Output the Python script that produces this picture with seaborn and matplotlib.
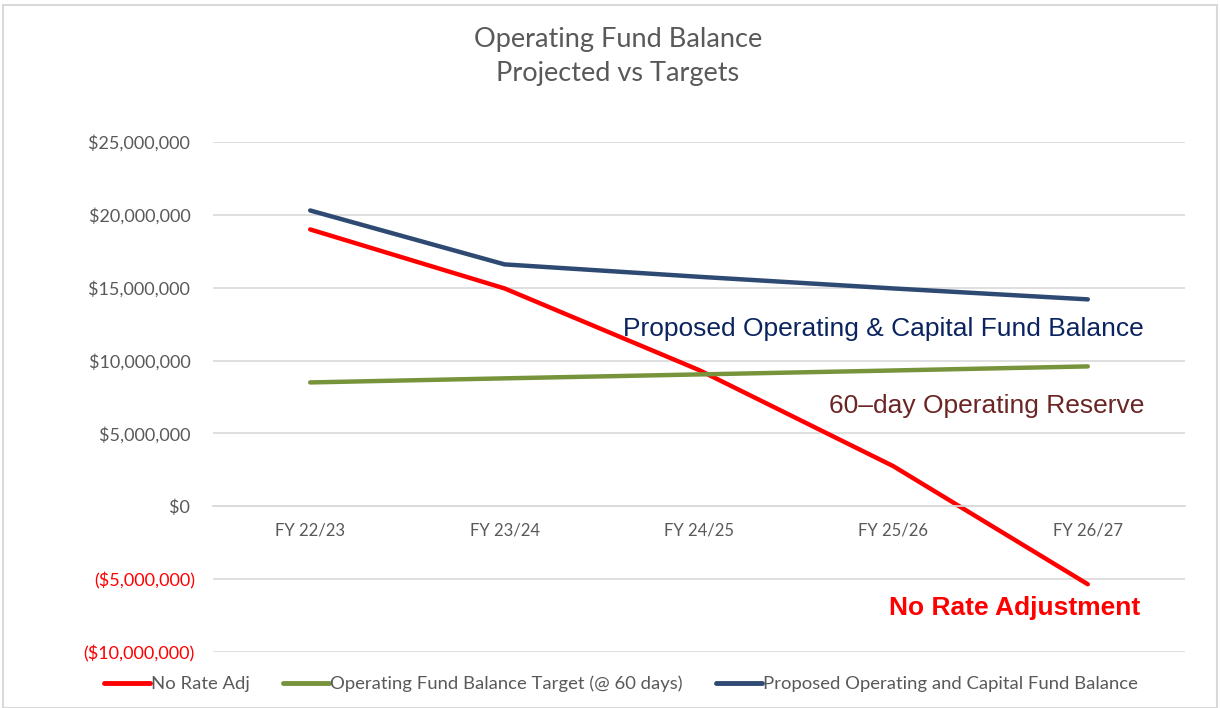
import matplotlib
matplotlib.use("Agg")
import matplotlib.pyplot as plt
import seaborn as sns
import pandas as pd
from matplotlib.patches import Rectangle

# ---- data ----
years = ["FY 22/23", "FY 23/24", "FY 24/25", "FY 25/26", "FY 26/27"]
no_rate_adj = [19_000_000, 14_950_000, 9_350_000, 2_750_000, -5_350_000]
target_60_days = [8_500_000, 8_780_000, 9_050_000, 9_320_000, 9_600_000]
proposed_balance = [20_300_000, 16_600_000, 15_750_000, 14_950_000, 14_200_000]
series_names = ["No Rate Adj",
                "Operating Fund Balance Target (@ 60 days)",
                "Proposed Operating and Capital Fund Balance"]
series_colors = ["#FF0000", "#77933C", "#2E4A73"]
y_ticks = [-10_000_000, -5_000_000, 0, 5_000_000, 10_000_000, 15_000_000, 20_000_000, 25_000_000]

df = pd.DataFrame({
    "year": years * 3,
    "value": no_rate_adj + target_60_days + proposed_balance,
    "series": [series_names[0]] * 5 + [series_names[1]] * 5 + [series_names[2]] * 5,
})

sns.set_theme(style="white")
plt.rcParams["font.family"] = ["Lato", "DejaVu Sans"]

fig = plt.figure(figsize=(12.2, 7.08), dpi=100)
ax = fig.add_axes([213 / 1220, 1 - 652 / 708, (1185 - 213) / 1220, (652 - 142) / 708])

sns.lineplot(data=df, x="year", y="value", hue="series", hue_order=series_names,
             palette=series_colors, linewidth=3.2, sort=False, ax=ax, legend=True)
for ln in ax.lines:
    ln.set_solid_capstyle("round")

ax.set_xlim(-0.5, 4.5)
ax.set_ylim(-10_000_000, 25_000_000)
ax.set_yticks(y_ticks)

def fmt(v):
    if v < 0:
        return "(${:,.0f})".format(-v)
    return "${:,.0f} ".format(v)

ax.set_yticklabels([fmt(v) for v in y_ticks])
for lab, v in zip(ax.get_yticklabels(), y_ticks):
    lab.set_color("#FF0000" if v < 0 else "#595959")
    lab.set_fontsize(13)

ax.yaxis.grid(True, color="#D9D9D9", linewidth=1.2)
ax.xaxis.grid(False)
for s in ["left", "right", "top"]:
    ax.spines[s].set_visible(False)
ax.spines["bottom"].set_position(("data", 0))
ax.spines["bottom"].set_color("#D9D9D9")
ax.spines["bottom"].set_linewidth(1.2)
ax.tick_params(axis="x", length=0, pad=12, labelsize=12, labelcolor="#595959")
ax.tick_params(axis="y", length=0, pad=13)
ax.set_xlabel("")
ax.set_ylabel("")
ax.set_facecolor("none")

# annotations
ann_font = ["Liberation Sans", "DejaVu Sans"]
ax.text(4.29, 12_150_000, "Proposed Operating & Capital Fund Balance", ha="right", va="center",
        fontsize=19, color="#0B2460", family=ann_font)
ax.text(4.29, 6_900_000, "60\u2013day Operating Reserve", ha="right", va="center",
        fontsize=19, color="#6B2525", family=ann_font)
ax.text(4.27, -7_000_000, "No Rate Adjustment", ha="right", va="center",
        fontsize=19, color="#FF0000", fontweight="bold", family=ann_font)

# title
fig.text(618 / 1220, 1 - 40 / 708, "Operating Fund Balance", ha="center", va="center",
         fontsize=19.5, color="#595959")
fig.text(618 / 1220, 1 - 73 / 708, "Projected vs Targets", ha="center", va="center",
         fontsize=19.5, color="#595959")

# legend
handles, labels = ax.get_legend_handles_labels()
if ax.get_legend():
    ax.get_legend().remove()
leg = fig.legend(handles, labels, loc="center", bbox_to_anchor=(621 / 1220, 1 - 684 / 708),
                 ncol=3, frameon=False, fontsize=13.3, handlelength=2.5, handletextpad=0.05,
                 columnspacing=1.8, labelcolor="#595959")
for h in leg.get_lines():
    h.set_linewidth(3.5)

# chart border
fig.patches.append(Rectangle((3 / 1220, 0), (1217 - 3) / 1220, 1 - 5 / 708, transform=fig.transFigure,
                             fill=False, edgecolor="#D9D9D9", linewidth=1.5))

fig.savefig("out.png", dpi=100, facecolor="white")
